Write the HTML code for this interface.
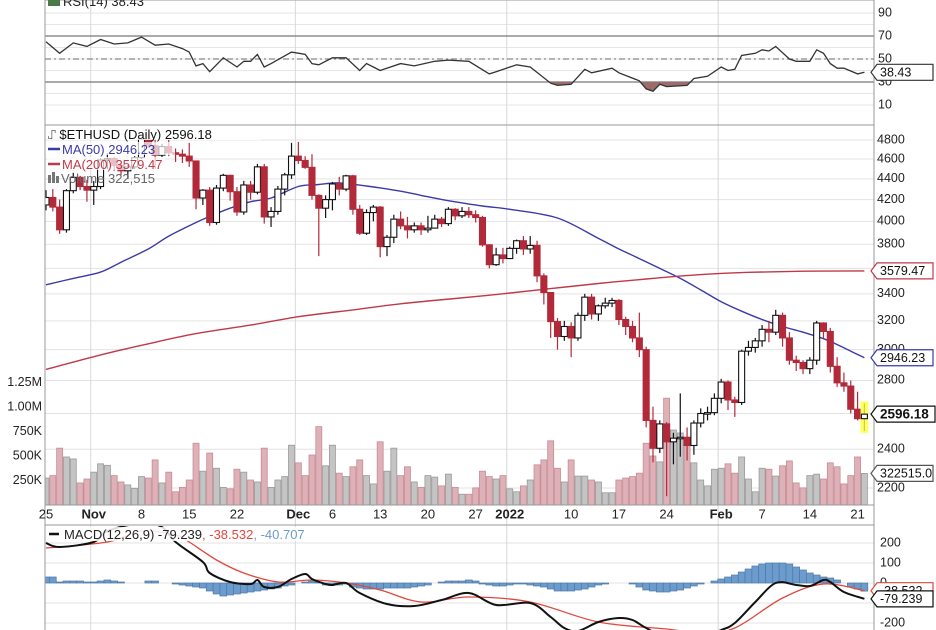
<!DOCTYPE html>
<html><head><meta charset="utf-8">
<style>
html,body{margin:0;padding:0;background:#fff;width:936px;height:630px;overflow:hidden}
svg{display:block;font-family:"Liberation Sans",Arial,sans-serif}
</style></head>
<body>
<svg id="chart" width="936" height="630" viewBox="0 0 936 630" xmlns="http://www.w3.org/2000/svg">
<defs>
<clipPath id="clipPrice"><rect x="45" y="126" width="829" height="379"/></clipPath>
<clipPath id="clipMacd"><rect x="45" y="526" width="829" height="104"/></clipPath>
<clipPath id="clipRsiLow"><rect x="45" y="82" width="829" height="43"/></clipPath>
</defs>
<g id="grid"></g>
<g id="vol" clip-path="url(#clipPrice)"></g>
<g id="ma" clip-path="url(#clipPrice)"></g>
<g id="candles" clip-path="url(#clipPrice)"></g>
<g id="rsi"></g>
<g id="macd" clip-path="url(#clipMacd)"></g>
<g id="frame"></g>
<g id="labels"></g>
</svg>
<script>
const closes=[4220,4130,3925,4285,4415,4325,4290,
4325,4590,4605,4535,4480,4520,4615,4810,4740,4640,4730,4665,4650,4630,4580,4215,4290,3990,4310,4435,4275,4085,4340,4270,4520,4040,4090,4300,4440,4630,
4585,4515,4240,4120,4200,4350,4300,4430,4110,3895,4080,4130,3780,3860,4020,3960,3925,3960,3925,3940,4020,3980,4110,4050,4090,4060,4035,3795,3630,3710,3680,
3765,3830,3760,3790,3540,3410,3195,3090,3160,3080,3240,3375,3250,3310,3330,3350,3210,3160,3080,3000,2560,2405,2540,2440,2460,2465,2420,2545,2600,2605,2690,
2790,2680,2665,2990,3015,3060,3140,3120,3240,3080,2930,2915,2875,2930,3185,3125,2890,2785,2765,2625,2570,2596.18];
const firstOpen=4150;
const highs=[4290,4300,4200,4300,4460,4430,4390,4380,4610,4660,4620,4560,4540,4630,4830,4860,4810,4760,4800,4710,4700,4770,4580,4300,4320,4340,4450,4440,4320,4380,4380,4550,4550,4130,4330,4460,4770,
4780,4630,4650,4250,4240,4370,4420,4440,4440,4150,4110,4150,4140,3880,4060,4090,4040,3990,3990,4050,4060,4040,4130,4120,4130,4130,4100,4050,3800,3770,3770,
3780,3840,3870,3870,3830,3560,3410,3220,3200,3190,3260,3400,3400,3320,3370,3370,3360,3230,3200,3260,3020,2640,2560,2550,2490,2720,2520,2560,2630,2640,2720,
2810,2800,2700,3000,3060,3080,3170,3200,3280,3260,3120,2960,2930,2950,3200,3190,3150,2950,2850,2800,2730,2660];
const lows=[4100,4090,3890,3900,4260,4290,4180,4150,4300,4500,4480,4440,4400,4500,4600,4720,4500,4620,4630,4570,4560,4520,4110,4150,3960,3970,4280,4190,4050,4060,4200,4250,3980,3950,4060,4240,4400,
4550,4500,4200,3700,4030,4100,4240,4280,4060,3880,3880,4000,3690,3700,3810,3930,3850,3900,3880,3900,3940,3950,3960,4010,4030,4030,3990,3780,3600,3620,3640,
3680,3720,3710,3720,3490,3320,3080,3000,3060,2950,3060,3200,3210,3200,3290,3300,3170,3100,3050,2950,2520,2330,2380,2160,2320,2360,2340,2370,2520,2560,2590,
2660,2620,2580,2650,2960,2980,3020,3050,3100,3020,2900,2860,2840,2840,2900,3080,2850,2760,2730,2600,2560,2500];
const volumesK=[275,300,580,490,470,225,265,335,420,405,300,235,205,170,290,275,460,225,335,135,180,255,630,345,530,375,180,165,365,335,255,235,580,180,255,290,610,430,300,510,800,400,610,325,290,390,460,300,215,645,345,580,300,390,235,180,300,285,195,315,180,110,110,
175,345,290,265,300,165,135,195,255,410,460,655,375,235,460,295,295,255,235,125,125,255,275,290,325,630,500,440,1090,765,735,630,430,255,195,365,375,420,325,490,265,135,375,365,295,400,450,225,175,300,315,265,430,390,215,300,490,322.515];
const ma50Day=[0,4,8,11,15,18,22,24,27,30,33,37,40,43,47,52,55,59,64,68,75,81,84,87,90,93,96,99,102,105,108,111,114,116,118,120];
const ma50Val=[3470,3520,3570,3650,3760,3870,3990,4045,4120,4180,4215,4325,4345,4360,4330,4280,4240,4190,4140,4110,4030,3850,3760,3680,3600,3520,3430,3340,3270,3210,3160,3120,3075,3035,2990,2946.23];
const ma200Day=[0,8,15,22,30,37,45,52,60,67,74,81,88,96,103,111,120];
const ma200Val=[2870,2965,3040,3110,3170,3230,3280,3325,3365,3400,3440,3480,3515,3550,3568,3577,3579.47];
const rsiDay=[0,2,4,6,8,10,12,14,16,18,20,21,22,23,24,26,28,29,30,31,32,33,36,38,39,40,42,44,46,47,49,52,54,57,59,62,65,66,69,71,74,75,77,79,80,83,84,87,88,89,90,91,94,95,97,99,100,101,102,104,105,106,107,109,110,112,113,114,115,116,117,119,120];
const rsiVal=[65,55,64,61,67,63,64,69,62,63,59,56,44,46,39,51,43,48,48,54,43,46,56,54,46,45,51,51,40,46,40,46,44,48,49,48,37,39,45,43,29,27,28,41,38,42,38,31,24,22,28,26,27,33,35,43,40,41,53,55,58,57,61,50,48,48,58,55,46,42,42,37,38.43];
const macdDay=[0,2,7,9,14,17,19,23,24,27,30,31,32,34,36,38,39,41,42,44,46,50,54,58,62,66,71,74,76,78,81,84,86,88,91,96,99,101,104,107,110,112,114,115,117,120];
const macdVal=[200,180,205,260,300,280,205,105,50,5,-5,15,-20,-20,20,45,20,-5,-10,0,-50,-105,-115,-85,-50,-110,-100,-170,-225,-240,-195,-175,-185,-225,-270,-265,-235,-200,-95,0,-10,-15,15,5,-45,-79.239];
const sigDay=[0,9,14,19,21,25,29,34,39,44,49,55,62,71,81,91,96,101,108,114,120];
const sigVal=[175,205,260,240,205,115,50,5,15,0,-35,-95,-70,-95,-195,-230,-250,-225,-75,-5,-38.532];
const hist=[30,30,5,10,10,10,5,5,10,15,10,5,0,0,0,10,10,0,0,-5,-10,-15,-20,-25,-40,-55,-65,-60,-55,-50,-45,-40,-35,-30,-25,-15,-10,
0,5,10,5,-10,-10,-10,-5,-20,-25,-30,-30,-30,-25,-25,-25,-25,-20,-15,-10,0,5,10,10,10,15,10,-5,-10,-15,-15,-10,-5,-5,-10,-15,
-20,-30,-40,-40,-40,-35,-30,-20,-10,-5,0,0,0,-5,-20,-35,-40,-45,-45,-40,-35,-25,-15,-5,0,10,20,30,40,55,70,85,95,100,100,100,95,80,65,50,40,30,25,15,0,-20,-30,-40.707];
const priceTicks=[2200,2400,2600,2800,3000,3200,3400,3600,3800,4000,4200,4400,4600,4800];
const priceTickLabels=["2200","2400","","2800","3000","3200","3400","","3800","4000","4200","4400","4600","4800"];
const volTicks=[250,500,750,1000,1250];
const volTickLabels=["250K","500K","750K","1.00M","1.25M"];
const rsiTicks=[90,70,50,30,10];
const macdTicks=[200,100,0,-100,-200];
const dateDays=[0,7,14,21,28,37,42,49,56,63,68,77,84,91,99,105,112,119];
const dateLabels=["25","Nov","8","15","22","Dec","6","13","20","27","2022","10","17","24","Feb","7","14","21"];
const dateBold=[false,true,false,false,false,true,false,false,false,false,true,false,false,false,true,false,false,false];
const monthStartDays=[7,37,68,99];

const NS="http://www.w3.org/2000/svg";
const L=45,R=874;
const x=i=>46+i*6.82;
const yP=p=>488-446*Math.log(p/2200);
const yV=v=>505-v/250*24.5;
const yR=v=>36+(70-v)*1.15;
const yM=v=>583-v*0.2;
function mk(tag,attrs,parent){const e=document.createElementNS(NS,tag);for(const k in attrs)e.setAttribute(k,attrs[k]);parent.appendChild(e);return e;}
const G=id=>document.getElementById(id);
const grid=G('grid'),vol=G('vol'),ma=G('ma'),cg=G('candles'),rsi=G('rsi'),macd=G('macd'),frame=G('frame'),lab=G('labels');

for(let v=10;v<=90;v+=10){
  let g=mk('line',{x1:L,x2:R,y1:yR(v),y2:yR(v),stroke:'#e6e6e6','stroke-width':1},grid);
  
  
}
priceTicks.forEach(p=>{
  let g=mk('line',{x1:L,x2:R,y1:yP(p),y2:yP(p),stroke:'#e3e3e3','stroke-width':1},grid);
  
  
});
macdTicks.forEach(v=>{
  let g=mk('line',{x1:L,x2:R,y1:yM(v),y2:yM(v),stroke:'#e3e3e3','stroke-width':1},grid);
  
  
});
monthStartDays.forEach(d=>{
  let g=mk('line',{x1:x(d)-3,x2:x(d)-3,y1:0,y2:630,stroke:'#d8d8d8','stroke-width':1},grid);
  
  
});
[[70,'#777',''],[30,'#777',''],[50,'#888','6,3,2,3']].forEach(a=>{
  let g=mk('line',{x1:L,x2:R,y1:yR(a[0]),y2:yR(a[0]),stroke:a[1],'stroke-width':1.3,'stroke-dasharray':a[2]},grid);
  
  
});

const opens=closes.map((c,i)=>i===0?firstOpen:closes[i-1]);
closes.forEach((c,i)=>{
  const o=opens[i],up=c>=o,cx=x(i);
  let b=mk('rect',{x:cx-3,y:yV(volumesK[i]),width:6,height:505-yV(volumesK[i]),fill:up?'#c4c4c4':'#ddb1b7',stroke:up?'#9a9a9a':'#c98b94','stroke-width':0.8},vol);
  
  
  let w=mk('line',{x1:cx,x2:cx,y1:yP(highs[i]),y2:yP(lows[i]),stroke:up?'#111':'#b22a3a','stroke-width':1.2},cg);
  
  
  const top=yP(Math.max(o,c)),bot=yP(Math.min(o,c));
  let r=mk('rect',{x:cx-3,y:top,width:6,height:Math.max(1.5,bot-top),fill:up?'#fff':'#b22a3a',stroke:up?'#111':'#b22a3a','stroke-width':1.1},cg);
  
  
});
{const i=closes.length-1;let h=mk('rect',{x:x(i)-4,y:yP(highs[i])-2,width:8,height:yP(lows[i])-yP(highs[i])+4,fill:'#ffff40',opacity:0.8},cg);


cg.insertBefore(h,cg.lastChild.previousSibling);}

function linePath(days,vals,fy){return days.map((d,k)=>(k?'L':'M')+x(d).toFixed(1)+','+fy(vals[k]).toFixed(1)).join('');}
function smoothPath(days,vals,fy){
  const p=days.map((d,k)=>[x(d),fy(vals[k])]);
  let s='M'+p[0][0].toFixed(1)+','+p[0][1].toFixed(1);
  for(let k=0;k<p.length-1;k++){
    const p0=p[k-1]||p[k],p1=p[k],p2=p[k+1],p3=p[k+2]||p2;
    const c1=[p1[0]+(p2[0]-p0[0])/6,p1[1]+(p2[1]-p0[1])/6],c2=[p2[0]-(p3[0]-p1[0])/6,p2[1]-(p3[1]-p1[1])/6];
    s+='C'+c1.map(v=>v.toFixed(1))+' '+c2.map(v=>v.toFixed(1))+' '+p2.map(v=>v.toFixed(1));
  }
  return s;
}
let m50=mk('path',{d:smoothPath(ma50Day,ma50Val,yP),fill:'none',stroke:'#3a3aa8','stroke-width':1.4},ma);


let m200=mk('path',{d:smoothPath(ma200Day,ma200Val,yP),fill:'none',stroke:'#c0394a','stroke-width':1.4},ma);



const rp=linePath(rsiDay,rsiVal,yR);
let rf=mk('path',{d:rp+'L'+x(rsiDay[rsiDay.length-1])+','+yR(30)+'L'+x(rsiDay[0])+','+yR(30)+'Z',fill:'#9c6d6a','clip-path':'url(#clipRsiLow)'},rsi);


let rl=mk('path',{d:rp,fill:'none',stroke:'#333','stroke-width':1.3},rsi);



hist.forEach((h,i)=>{
  const y0=yM(0),y1=yM(h);
  let b=mk('rect',{x:x(i)-3.4,y:Math.min(y0,y1),width:6.8,height:Math.abs(y1-y0),fill:'#6c9ccd',stroke:'#4d7aa6','stroke-width':0.7},macd);
  
  
});
let sl=mk('path',{d:smoothPath(sigDay,sigVal,yM),fill:'none',stroke:'#e0483c','stroke-width':1.3},macd);


let ml=mk('path',{d:smoothPath(macdDay,macdVal,yM),fill:'none',stroke:'#111','stroke-width':2},macd);



[[L,0,R,0],[L,0,L,630],[R,0,R,630],[L,125,R,125],[L,505,R,505],[L,525,R,525]].forEach(a=>{
  let f=mk('line',{x1:a[0],y1:a[1],x2:a[2],y2:a[3],stroke:'#999','stroke-width':1},frame);
  
  
});

function txt(s,xx,yy,opt,name){
  const t=mk('text',Object.assign({x:xx,y:yy,'font-size':12.5,fill:'#222','dominant-baseline':'middle'},opt||{}),lab);
  t.textContent=s;
  
  
  return t;
}
rsiTicks.forEach(v=>txt(String(v),878,yR(v),{},'rsi-tick-label'));
priceTicks.forEach((p,k)=>{if(priceTickLabels[k])txt(priceTickLabels[k],877,yP(p),{},'price-tick-label');});
volTicks.forEach((v,k)=>txt(volTickLabels[k],42,yV(v),{'text-anchor':'end'},'volume-tick-label'));
macdTicks.forEach(v=>txt(String(v),880,yM(v),{},'macd-tick-label'));
dateDays.forEach((d,k)=>txt(dateLabels[k],x(d),515,{'text-anchor':'middle','font-weight':dateBold[k]?'bold':'normal','font-size':13},'date-label'));

function tag(s,yy,color,bold,name){
  const g=mk('g',{},lab);
  
  
  const w=bold?58:56;
  mk('path',{d:`M871,${yy}L877,${yy-8}H${877+w}V${yy+8}H877Z`,fill:'#fff',stroke:color,'stroke-width':1.2},g);
  const t=mk('text',{x:880,y:yy+1,'font-size':bold?13.5:12.5,'font-weight':bold?'bold':'normal',fill:'#111','dominant-baseline':'middle'},g);
  t.textContent=s;
}
tag('38.43',yR(38.43),'#333',false,'rsi-value-tag');
tag(ma200Val[ma200Val.length-1].toFixed(2),yP(ma200Val[ma200Val.length-1]),'#c0394a',false,'ma200-value-tag');
tag(ma50Val[ma50Val.length-1].toFixed(2),yP(ma50Val[ma50Val.length-1]),'#3a3aa8',false,'ma50-value-tag');
tag(closes[closes.length-1].toFixed(2),yP(closes[closes.length-1]),'#111',true,'price-value-tag');
tag((volumesK[volumesK.length-1]*1000).toFixed(1),yV(volumesK[volumesK.length-1]),'#555',false,'volume-value-tag');
tag(sigVal[sigVal.length-1].toFixed(3),yM(sigVal[sigVal.length-1]),'#e0483c',false,'macd-signal-tag');
tag(macdVal[macdVal.length-1].toFixed(3),yM(macdVal[macdVal.length-1]),'#111',false,'macd-value-tag');
</script>
<svg style="position:absolute;left:0;top:0" width="936" height="630">
<g font-family="Liberation Sans, Arial, sans-serif" font-size="13">
<rect x="48" y="-4" width="12" height="10" fill="#4a7a4a"/>
<text x="63" y="6" fill="#222">RSI(14) 38.43</text>
<rect x="47" y="127" width="214" height="13" fill="#fff" opacity="0.85"/>
<text x="48" y="139" fill="#111">⑀ $ETHUSD (Daily) 2596.18</text>
<rect x="47" y="142" width="128" height="13" fill="#fff" opacity="0.7"/>
<line x1="48" y1="149" x2="60" y2="149" stroke="#3a3aa8" stroke-width="2.5"/>
<text x="62" y="154" fill="#3a3aa8">MA(50) 2946.23</text>
<rect x="47" y="157" width="118" height="13" fill="#fff" opacity="0.7"/>
<line x1="48" y1="164" x2="60" y2="164" stroke="#c0394a" stroke-width="2.5"/>
<text x="62" y="169" fill="#c0394a">MA(200) 3579.47</text>
<rect x="48" y="175" width="3" height="8" fill="#777"/><rect x="52" y="172" width="3" height="11" fill="#777"/><rect x="56" y="176" width="3" height="7" fill="#777"/>
<text x="61" y="183" fill="#666">Volume 322,515</text>
<rect x="47" y="527" width="342" height="14" fill="#fff" opacity="0.85"/>
<line x1="49" y1="534" x2="59" y2="534" stroke="#111" stroke-width="2.5"/>
<text x="64" y="539"><tspan fill="#222">MACD(12,26,9) -79.239</tspan><tspan fill="#e0483c">, -38.532</tspan><tspan fill="#6c9ccd">, -40.707</tspan></text>
</g>
</svg>
</body></html>
